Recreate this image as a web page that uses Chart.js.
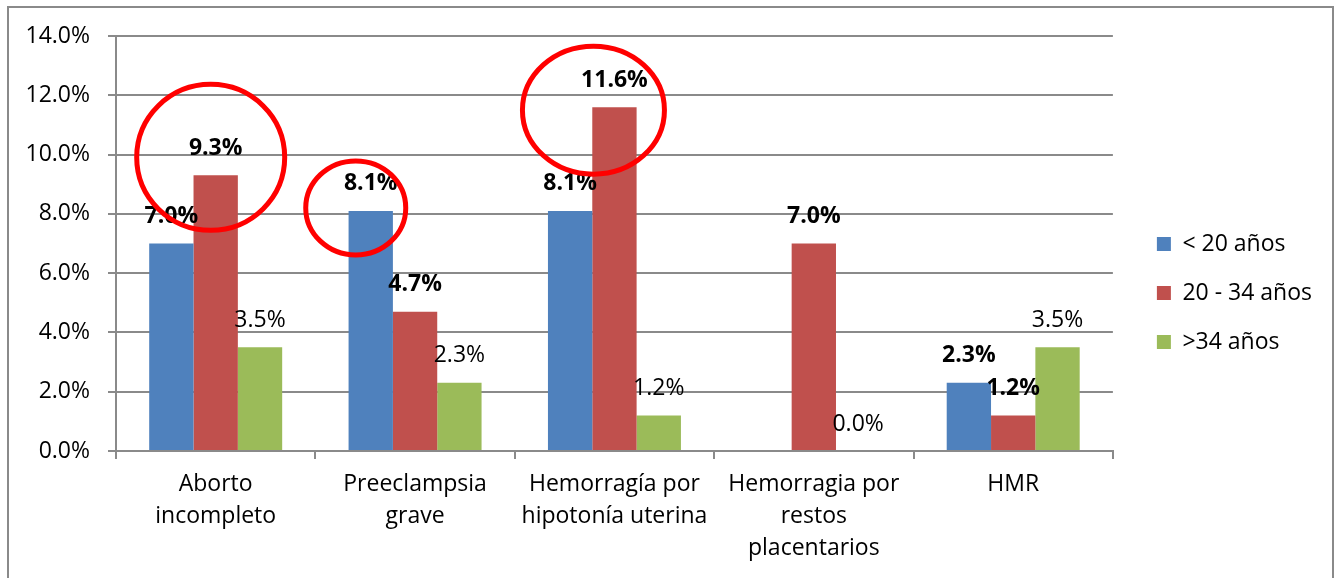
<!DOCTYPE html>
<html>
<head>
<meta charset="utf-8">
<script src="https://cdn.jsdelivr.net/npm/chart.js@4.4.1/dist/chart.umd.min.js"></script>
<style>
  html, body { margin: 0; padding: 0; background: #fff; }
  #wrap { position: absolute; left: 0; top: 0; width: 1338px; height: 578px; }
  #frame { position: absolute; left: 7px; top: 6px; width: 1323px; height: 600px; border: 2px solid #8a8a8a; pointer-events: none; }
</style>
</head>
<body>
<div id="wrap"><canvas id="chart"></canvas></div>
<div id="frame"></div>
<script>
// data (percent)
var categories = [
  ['Aborto', 'incompleto'],
  ['Preeclampsia', 'grave'],
  ['Hemorragía por', 'hipotonía uterina'],
  ['Hemorragia por', 'restos', 'placentarios'],
  ['HMR']
];
var seriesNames = ['< 20 años', '20 - 34 años', '>34 años'];
var under20 = [7.0, 8.1, 8.1, null, 2.3];
var from20to34 = [9.3, 4.7, 11.6, 7.0, 1.2];
var over34 = [3.5, 2.3, 1.2, 0.0, 3.5];
var labelBold = [true, true, false];
var yTicks = [0, 2, 4, 6, 8, 10, 12, 14];

// red rings drawn on the original, anchored to a bar (dataset, index)
var rings = [
  { ds: 1, i: 0, dx: -5, dy: -18, rx: 74, ry: 73 },
  { ds: 0, i: 1, dx: -15, dy: -3, rx: 50, ry: 47 },
  { ds: 1, i: 2, dx: -21, dy: 3, rx: 71, ry: 64 }
];

var FONT = '"Open Sans"';
var FS = 23;
var grey = '#8a8a8a';

var valueLabels = {
  id: 'valueLabels',
  afterDatasetsDraw: function(chart) {
    var ctx = chart.ctx;
    ctx.save();
    ctx.fillStyle = '#000';
    ctx.textAlign = 'center';
    ctx.textBaseline = 'middle';
    chart.data.datasets.forEach(function(ds, d) {
      var meta = chart.getDatasetMeta(d);
      ctx.font = (labelBold[d] ? 'bold ' : '') + FS + 'px ' + FONT;
      meta.data.forEach(function(bar, i) {
        var v = ds.data[i];
        if (v === null) return;
        ctx.fillText(v.toFixed(1) + '%', bar.x, bar.y - 27);
      });
    });
    ctx.strokeStyle = '#ff0000';
    ctx.lineWidth = 5;
    rings.forEach(function(r) {
      var bar = chart.getDatasetMeta(r.ds).data[r.i];
      ctx.beginPath();
      ctx.ellipse(bar.x + r.dx, bar.y + r.dy, r.rx, r.ry, 0, 0, Math.PI * 2);
      ctx.stroke();
    });
    ctx.restore();
  }
};

var ctx = document.getElementById('chart').getContext('2d');
var chart = new Chart(ctx, {
  type: 'bar',
  data: {
    labels: categories,
    datasets: [
      { label: seriesNames[0], data: under20, backgroundColor: '#4F81BD' },
      { label: seriesNames[1], data: from20to34, backgroundColor: '#C0504D' },
      { label: seriesNames[2], data: over34, backgroundColor: '#9BBB59' }
    ]
  },
  options: {
    responsive: true,
    maintainAspectRatio: false,
    animation: false,
    categoryPercentage: 0.667,
    barPercentage: 1.0,
    layout: { padding: { top: 8, left: 0, right: 16, bottom: 0 } },
    plugins: {
      tooltip: { enabled: false },
      legend: {
        position: 'right',
        labels: {
          boxWidth: 14,
          boxHeight: 14,
          padding: 26,
          color: '#000',
          font: { family: FONT, size: FS }
        }
      }
    },
    scales: {
      x: {
        grid: { display: true, drawOnChartArea: false, drawTicks: true, tickLength: 8, color: grey, lineWidth: 2 },
        border: { color: grey, width: 2 },
        ticks: { color: '#000', padding: 9, maxRotation: 0, autoSkip: false, font: { family: FONT, size: FS, lineHeight: 1.4 } },
        afterFit: function(scale) { scale.height = 127; }
      },
      topGap: {
        type: 'linear',
        position: 'top',
        grid: { display: false },
        border: { display: false },
        ticks: { display: false },
        afterFit: function(scale) { scale.height = 28; }
      },
      y: {
        min: 0,
        max: 14,
        afterBuildTicks: function(scale) { scale.ticks = yTicks.map(function(v) { return { value: v }; }); },
        grid: { color: grey, lineWidth: 2, tickLength: 8 },
        border: { color: grey, width: 2 },
        ticks: {
          color: '#000',
          padding: 18,
          font: { family: FONT, size: FS },
          callback: function(v) { return v.toFixed(1) + '%'; }
        },
        afterFit: function(scale) { scale.width = 116; }
      },
      yGap: {
        position: 'right',
        min: 0,
        max: 14,
        grid: { display: false },
        border: { display: false },
        ticks: { display: false },
        afterFit: function(scale) { scale.width = 18; }
      }
    }
  },
  plugins: [valueLabels]
});
</script>
</body>
</html>
